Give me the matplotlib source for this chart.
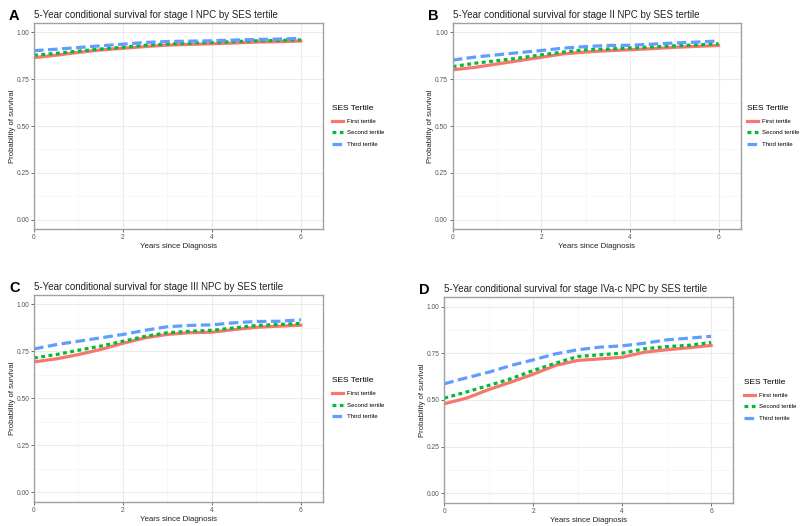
import matplotlib.pyplot as plt
from matplotlib.ticker import MultipleLocator
import numpy as np

plt.rcParams['font.family'] = ['Liberation Sans', 'DejaVu Sans']

years = [0, 0.5, 1, 1.5, 2, 2.5, 3, 3.5, 4, 4.5, 5, 5.5, 6]
tertiles = ['First tertile', 'Second tertile', 'Third tertile']

# stage I
a_first = [0.865, 0.878, 0.893, 0.906, 0.915, 0.924, 0.932, 0.936, 0.939, 0.943, 0.948, 0.950, 0.954]
a_second = [0.878, 0.888, 0.900, 0.911, 0.920, 0.931, 0.938, 0.942, 0.946, 0.951, 0.955, 0.957, 0.960]
a_third = [0.902, 0.910, 0.919, 0.928, 0.937, 0.946, 0.951, 0.953, 0.955, 0.959, 0.962, 0.964, 0.968]
# stage II
b_first = [0.800, 0.813, 0.831, 0.849, 0.867, 0.885, 0.895, 0.902, 0.907, 0.913, 0.920, 0.925, 0.930]
b_second = [0.817, 0.835, 0.849, 0.863, 0.880, 0.895, 0.907, 0.911, 0.916, 0.922, 0.928, 0.933, 0.939]
b_third = [0.852, 0.868, 0.880, 0.892, 0.903, 0.916, 0.924, 0.930, 0.931, 0.937, 0.943, 0.948, 0.954]
# stage III
c_first = [0.694, 0.710, 0.733, 0.760, 0.793, 0.822, 0.840, 0.849, 0.852, 0.866, 0.878, 0.884, 0.889]
c_second = [0.715, 0.733, 0.756, 0.778, 0.804, 0.830, 0.849, 0.857, 0.862, 0.875, 0.888, 0.893, 0.899]
c_third = [0.763, 0.786, 0.804, 0.822, 0.840, 0.862, 0.881, 0.888, 0.891, 0.902, 0.909, 0.910, 0.918]
# stage IVa-c
d_first = [0.480, 0.510, 0.556, 0.596, 0.638, 0.685, 0.712, 0.720, 0.729, 0.756, 0.769, 0.780, 0.792]
d_second = [0.510, 0.543, 0.578, 0.614, 0.658, 0.697, 0.733, 0.742, 0.751, 0.774, 0.786, 0.793, 0.808]
d_third = [0.587, 0.619, 0.649, 0.685, 0.715, 0.747, 0.769, 0.783, 0.790, 0.804, 0.822, 0.831, 0.841]

panels = [
    ('A', 'I', [a_first, a_second, a_third]),
    ('B', 'II', [b_first, b_second, b_third]),
    ('C', 'III', [c_first, c_second, c_third]),
    ('D', 'IVa-c', [d_first, d_second, d_third]),
]

# axes boxes in figure fraction (left, bottom, width, height)
boxes = [
    [0.0425, 0.5646, 0.3613, 0.3917],
    [0.5659, 0.5646, 0.3600, 0.3917],
    [0.0425, 0.0462, 0.3613, 0.3930],
    [0.5554, 0.0443, 0.3613, 0.3905],
]
leg_x = [1.015, 1.005, 1.015, 1.02]

colors = ['#F8766D', '#00BA38', '#619CFF']
styles = ['-', (0, (1.2, 1.1)), (0, (3, 1.4))]

fig = plt.figure(figsize=(8, 5.26), dpi=100)

for (letter, stage, series), box, lx in zip(panels, boxes, leg_x):
    ax = fig.add_axes(box)
    for vals, lab, c, ls in zip(series, tertiles, colors, styles):
        ax.plot(years, vals, color=c, linestyle=ls, lw=2.3, label=lab)
    ax.set_xlim(0, 6.5)
    ax.set_ylim(-0.05, 1.05)
    ax.xaxis.set_major_locator(MultipleLocator(2))
    ax.xaxis.set_minor_locator(MultipleLocator(1))
    ax.yaxis.set_major_locator(MultipleLocator(0.25))
    ax.yaxis.set_minor_locator(MultipleLocator(0.125))
    ax.set_yticklabels(['%.2f' % v for v in ax.get_yticks()])
    ax.grid(which='major', color='#EBEBEB', lw=0.8)
    ax.grid(which='minor', color='#F4F4F4', lw=0.5)
    ax.set_axisbelow(True)
    ax.tick_params(which='major', length=2, width=0.6, color='#555555',
                   labelsize=4.8, labelcolor='#555555', pad=1.5)
    ax.tick_params(which='minor', length=0)
    for s in ax.spines.values():
        s.set_color('#A0A0A0')
        s.set_linewidth(1.0)
    ax.set_xlabel('Years since Diagnosis', fontsize=5.7, labelpad=1.5, color='#222222')
    ax.set_ylabel('Probability of survival', fontsize=5.6, labelpad=0.5, color='#222222')
    ax.set_title('5-Year conditional survival for stage %s NPC by SES tertile' % stage,
                 fontsize=7.0, loc='left', pad=3.5, color='#222222')
    ax.text(-0.05, 1.035, letter, transform=ax.transAxes, fontsize=10.5,
            fontweight='bold', ha='right', va='center')
    leg = ax.legend(title='SES Tertile', loc='center left', bbox_to_anchor=(lx, 0.5),
                    frameon=False, fontsize=4.4, title_fontsize=6,
                    handlelength=1.8, handletextpad=0.6, labelspacing=1.05,
                    borderpad=0.3)
    leg._legend_box.align = 'left'

fig.savefig('out.png', dpi=100)
